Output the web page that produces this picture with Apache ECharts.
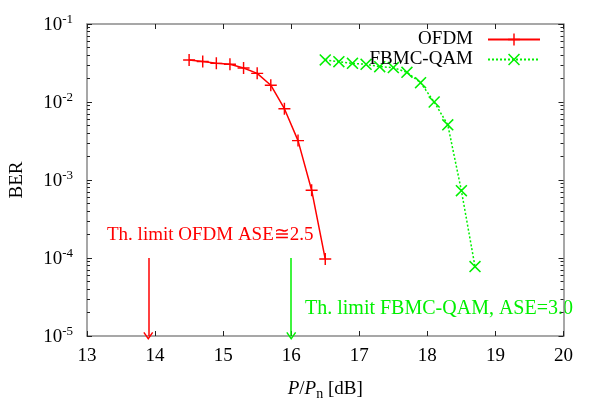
<!DOCTYPE html>
<html>
<head>
<meta charset="utf-8">
<script src="https://cdn.jsdelivr.net/npm/echarts@6/dist/echarts.min.js"></script>
<style>
  html, body { margin: 0; padding: 0; background: #fff; }
  #chart { width: 600px; height: 420px; }
</style>
</head>
<body>
<div id="chart"></div>
<script>
// data
const ofdmSnr = [14.5, 14.7, 14.9, 15.1, 15.3, 15.5, 15.7, 15.9, 16.1, 16.3, 16.5];
const ofdmBer = [0.0346, 0.033, 0.0313, 0.0304, 0.0273, 0.0233, 0.0164, 0.0082, 0.0032, 0.00074, 0.000097];
const fbmcSnr = [16.5, 16.7, 16.9, 17.1, 17.3, 17.5, 17.7, 17.9, 18.1, 18.3, 18.5, 18.7];
const fbmcBer = [0.0346, 0.0329, 0.0313, 0.0304, 0.0284, 0.0276, 0.024, 0.0177, 0.010, 0.0051, 0.00073, 0.0000776];
const limitSnr = [13.9, 16.0];          // OFDM, FBMC-QAM
const limitBer = [1e-4, 1e-5];          // arrow start, arrow end
const limitText = ['Th. limit OFDM ASE\u22452.5', 'Th. limit FBMC-QAM, ASE=3.0'];
const xMin = 13, xMax = 20;
const yMin = 1e-5, yMax = 1e-1;
const yMinorTicks = [];
for (let e = -5; e < -1; e++) {
  for (let m = 2; m <= 9; m++) yMinorTicks.push(m * Math.pow(10, e));
}

const RED = '#ff0000';
const GREEN = '#00f000';
const FONT = 'Liberation Serif';
const FRAME = '#8a8a8a';
const TICK = '#222';

const plusPath = 'path://M4.4,0H5.6V4.4H10V5.6H5.6V10H4.4V5.6H0V4.4H4.4Z';
const crossPath = 'path://M0,0.9L0.9,0L5,4.1L9.1,0L10,0.9L5.9,5L10,9.1L9.1,10L5,5.9L0.9,10L0,9.1L4.1,5Z';
const arrowPath = 'path://M5,0L10,9L8.8,10L5,3.2L1.2,10L0,9Z';

const zip = (xs, ys) => xs.map((x, i) => [x, ys[i]]);

const chart = echarts.init(document.getElementById('chart'), null, { renderer: 'canvas' });

const baseLine = { show: true, lineStyle: { color: FRAME, width: 1.5 } };
const majorTick = { inside: true, length: 5, lineStyle: { color: TICK } };
// log minor ticks (2..9 per decade) on an overlaid axis
const minorTick = { inside: true, length: 3, customValues: yMinorTicks, lineStyle: { color: TICK } };
const yLabel = {
  fontFamily: FONT,
  margin: 14,
  formatter: v => '{b|10}{s|' + Math.round(Math.log10(v)) + '}',
  rich: {
    b: { fontFamily: FONT, fontSize: 19, color: '#000', lineHeight: 22, verticalAlign: 'bottom' },
    s: { fontFamily: FONT, fontSize: 13, color: '#000', lineHeight: 13, verticalAlign: 'top' }
  }
};

const option = {
  animation: false,
  backgroundColor: '#fff',
  textStyle: { fontFamily: FONT },
  grid: { left: 86, top: 24, right: 36.5, bottom: 84, containLabel: false },
  legend: {
    data: ['OFDM', 'FBMC-QAM'],
    orient: 'vertical',
    right: 54,
    top: 25,
    align: 'right',
    itemWidth: 52,
    itemHeight: 15,
    itemGap: 1,
    textStyle: { fontFamily: FONT, fontSize: 19, color: '#000', lineHeight: 19, padding: [0, 10, 0, 0] }
  },
  xAxis: [
    {
      type: 'value', position: 'bottom', min: xMin, max: xMax, interval: 1,
      name: '{i|P}/{i|P}{sub|n} [dB]',
      nameLocation: 'middle', nameGap: 41,
      nameTextStyle: {
        fontFamily: FONT, fontSize: 19, color: '#000',
        rich: {
          i: { fontFamily: FONT, fontSize: 19, fontStyle: 'italic', color: '#000' },
          sub: { fontFamily: FONT, fontSize: 14, color: '#000', padding: [10, 0, 0, 0] }
        }
      },
      axisLine: baseLine,
      axisTick: majorTick,
      axisLabel: { fontFamily: FONT, fontSize: 19, color: '#000', margin: 11 },
      splitLine: { show: false }
    },
    {
      type: 'value', position: 'top', min: xMin, max: xMax, interval: 1,
      axisLine: baseLine,
      axisTick: majorTick,
      axisLabel: { show: false },
      splitLine: { show: false }
    }
  ],
  yAxis: [
    {
      type: 'log', logBase: 10, position: 'left', min: yMin, max: yMax,
      name: 'BER', nameLocation: 'middle', nameGap: 60,
      nameTextStyle: { fontFamily: FONT, fontSize: 19, color: '#000' },
      axisLine: baseLine,
      axisTick: majorTick,
      axisLabel: yLabel,
      splitLine: { show: false }
    },
    {
      type: 'log', logBase: 10, position: 'left', min: yMin, max: yMax,
      axisLine: { show: false },
      axisTick: minorTick,
      axisLabel: { show: false },
      splitLine: { show: false }
    },
    {
      type: 'log', logBase: 10, position: 'right', min: yMin, max: yMax,
      axisLine: baseLine,
      axisTick: majorTick,
      axisLabel: { show: false },
      splitLine: { show: false }
    },
    {
      type: 'log', logBase: 10, position: 'right', min: yMin, max: yMax,
      axisLine: { show: false },
      axisTick: minorTick,
      axisLabel: { show: false },
      splitLine: { show: false }
    }
  ],
  series: [
    {
      name: 'OFDM', type: 'line', data: zip(ofdmSnr, ofdmBer),
      symbol: plusPath, symbolSize: 12, showAllSymbol: true,
      lineStyle: { color: RED, width: 1.5 },
      itemStyle: { color: RED, borderWidth: 0 }
    },
    {
      name: 'FBMC-QAM', type: 'line', data: zip(fbmcSnr, fbmcBer),
      symbol: crossPath, symbolSize: 12, showAllSymbol: true,
      lineStyle: { color: GREEN, width: 1.5, type: [2, 2] },
      itemStyle: { color: GREEN, borderWidth: 0 }
    },
    {
      name: 'limits', type: 'line', data: [],
      markLine: {
        silent: true, animation: false,
        symbol: ['none', arrowPath], symbolSize: [10, 8],
        label: { show: false },
        data: limitSnr.map((x, i) => [
          { coord: [x, limitBer[0]], lineStyle: { color: i ? GREEN : RED, width: 1.5, type: 'solid' }, itemStyle: { color: i ? GREEN : RED } },
          { coord: [x, limitBer[1]] }
        ])
      }
    }
  ],
  graphic: [
    { type: 'text', left: 107, top: 226, style: { text: limitText[0], fontFamily: FONT, fontSize: 19, fill: RED } },
    { type: 'text', left: 305, top: 299, style: { text: limitText[1], fontFamily: FONT, fontSize: 20, fill: GREEN } }
  ]
};

chart.setOption(option);
</script>
</body>
</html>
